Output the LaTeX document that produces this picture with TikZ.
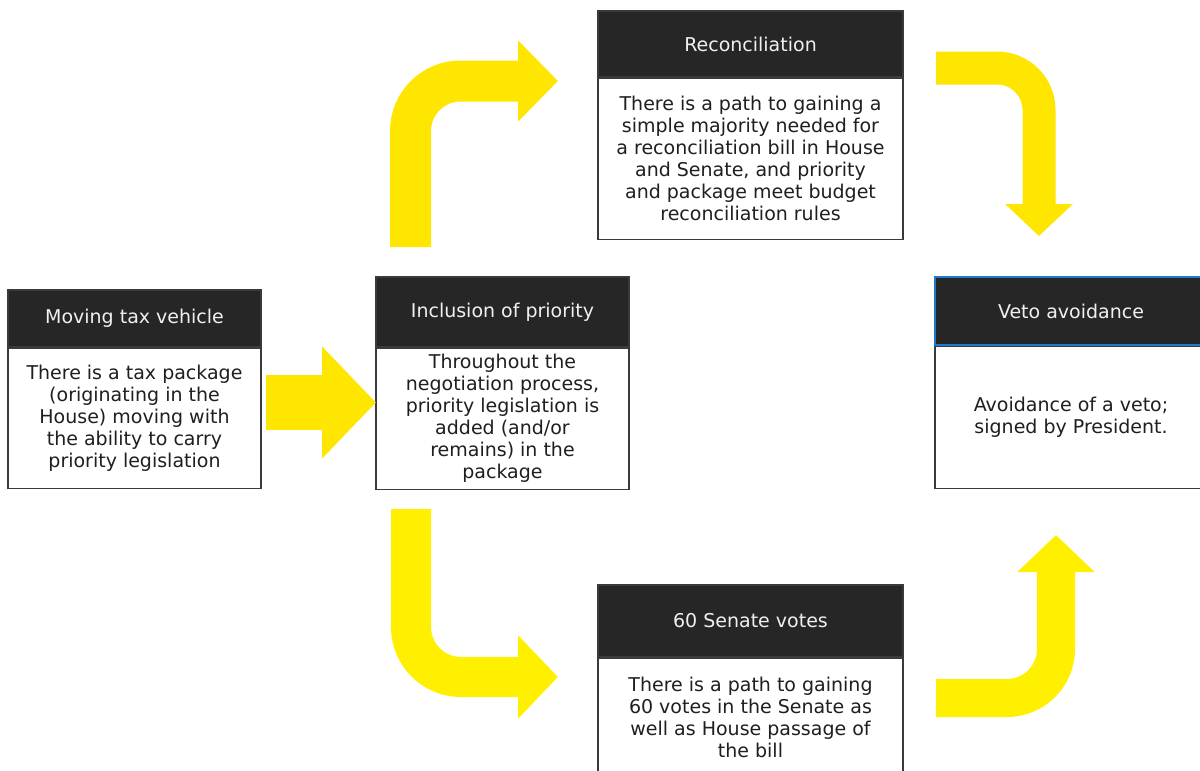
\documentclass[tikz,border=0pt]{standalone}
\usepackage{fontspec}
\setmainfont{DejaVu Sans}
\usetikzlibrary{arrows.meta}
\definecolor{eyyel}{HTML}{FFE600}
\definecolor{eyyeltwo}{HTML}{FFF000}
\definecolor{hdrfill}{HTML}{262626}
\definecolor{edgecol}{HTML}{3A3A3A}
\definecolor{vblue}{HTML}{1F7AC9}
\begin{document}
\begin{tikzpicture}[x=1pt,y=-1pt,
  hdr/.style={fill=hdrfill, draw=edgecol, line width=1.2pt, text=white!94!black, inner sep=0pt,
    font=\fontsize{19pt}{22pt}\selectfont},
  bodybox/.style={fill=white, draw=edgecol, line width=1.2pt, text=black!88, align=center, inner sep=0pt,
    font=\fontsize{19pt}{22pt}\selectfont, anchor=north},
  arrA/.style={draw=eyyel, line width=41pt, rounded corners=50pt, -{Triangle[length=40pt,width=79pt]}},
  arrB/.style={draw=eyyel, line width=33pt, rounded corners=42pt, -{Triangle[length=32pt,width=66pt]}},
  arrC/.style={draw=eyyeltwo, line width=40pt, rounded corners=50pt, -{Triangle[length=40pt,width=81pt]}},
  arrD/.style={draw=eyyeltwo, line width=38pt, rounded corners=49pt, -{Triangle[length=37pt,width=75pt]}},
  arrE/.style={draw=eyyel, line width=55pt, -{Triangle[length=54pt,width=109pt]}}
]
\clip (0,0) rectangle (1200,771);
\fill[white] (0,0) rectangle (1200,771);

% Box 1: Moving tax vehicle
\node[hdr, minimum width=253pt, minimum height=57pt] (h1) at (134.5,318.5) {Moving tax vehicle};
\node[bodybox, minimum width=253pt, minimum height=140pt] (b1) at (h1.south)
  {There is a tax package\\(originating in the\\House) moving with\\the ability to carry\\priority legislation};

% Box 2: Inclusion of priority
\node[hdr, minimum width=253pt, minimum height=70pt] (h2) at (502.5,312) {Inclusion of priority};
\node[bodybox, minimum width=253pt, minimum height=141pt] (b2) at (h2.south)
  {Throughout the\\negotiation process,\\priority legislation is\\added (and/or\\remains) in the\\package};

% Box 3: Reconciliation
\node[hdr, minimum width=305pt, minimum height=66pt] (h3) at (750.5,44) {Reconciliation};
\node[bodybox, minimum width=305pt, minimum height=161pt] (b3) at (h3.south)
  {There is a path to gaining a\\simple majority needed for\\a reconciliation bill in House\\and Senate, and priority\\and package meet budget\\reconciliation rules};

% Box 4: Veto avoidance
\node[hdr, draw=vblue, minimum width=272pt, minimum height=68pt] (h4) at (1071,311) {Veto avoidance};
\node[bodybox, minimum width=272pt, minimum height=142pt] (b4) at (h4.south)
  {Avoidance of a veto;\\signed by President.};

% Box 5: 60 Senate votes
\node[hdr, minimum width=305pt, minimum height=72pt] (h5) at (750.5,621) {60 Senate votes};
\node[bodybox, minimum width=305pt, minimum height=118pt] (b5) at (h5.south)
  {There is a path to gaining\\60 votes in the Senate as\\well as House passage of\\the bill};

% Arrow end points
\coordinate (aAs) at (410.5,247);
\coordinate (aAe) at (558,81);
\coordinate (aBs) at (936,68);
\coordinate (aBe) at (1039,236);
\coordinate (aCs) at (411,509);
\coordinate (aCe) at (558,677);
\coordinate (aDs) at (936,698);
\coordinate (aDe) at (1056,535);
\coordinate (aEs) at (266,402.5);
\coordinate (aEe) at (376,402.5);

\draw[arrA] (aAs) |- (aAe);
\draw[arrB] (aBs) -| (aBe);
\draw[arrC] (aCs) |- (aCe);
\draw[arrD] (aDs) -| (aDe);
\draw[arrE] (aEs) -- (aEe);
\end{tikzpicture}
\end{document}
